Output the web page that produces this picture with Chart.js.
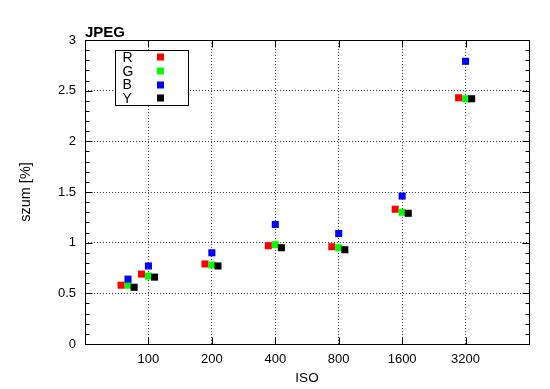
<!DOCTYPE html>
<html>
<head>
<meta charset="utf-8">
<script src="https://cdn.jsdelivr.net/npm/chart.js@4.4.0/dist/chart.umd.min.js"></script>
<style>
    html, body { margin: 0; padding: 0; background: #fff; }
    #wrap { width: 550px; height: 389px; position: relative; }
</style>
</head>
<body>
<div id="wrap"><canvas id="chartSzum"></canvas></div>
<script>
// dane
var isoValues = [80, 100, 200, 400, 800, 1600, 3200];
var isoTicks = [100, 200, 400, 800, 1600, 3200];
var szumR = [0.58, 0.69, 0.79, 0.97, 0.96, 1.33, 2.43];
var szumG = [0.58, 0.67, 0.78, 0.98, 0.95, 1.30, 2.42];
var szumB = [0.64, 0.77, 0.90, 1.18, 1.09, 1.46, 2.79];
var szumY = [0.56, 0.66, 0.77, 0.95, 0.93, 1.29, 2.42];
var seriesNames = ['R', 'G', 'B', 'Y'];

(function() {
    'use strict';

    var FONT = '"Liberation Sans", Arial, Helvetica, sans-serif';
    var FONT_NARROW = '"Liberation Sans Narrow", "Arial Narrow", "Liberation Sans", sans-serif';

    function punkty(vals, shift) {
        return isoValues.map(function(iso, i) {
            return { x: iso * shift, y: vals[i] };
        });
    }

    function seria(name, vals, color, shift, order) {
        return {
            label: name,
            data: punkty(vals, shift),
            backgroundColor: color,
            borderColor: color,
            pointStyle: 'rect',
            pointRadius: 5,
            pointHoverRadius: 5,
            pointBorderWidth: 0,
            showLine: false,
            order: order
        };
    }

    // ramka, ticki do wewnatrz, legenda i tytul
    var gnuplotStyle = {
        id: 'gnuplotStyle',
        afterDraw: function(chart) {
            var c = chart.ctx;
            var a = chart.chartArea;
            var xs = chart.scales.x;
            var ys = chart.scales.y;
            var L = Math.round(a.left) + 0.5, R = Math.round(a.right) + 0.5;
            var T = Math.round(a.top) + 0.5, B = Math.round(a.bottom) + 0.5;

            c.save();
            c.strokeStyle = '#000';
            c.lineWidth = 1;
            c.beginPath();
            // y: ticki co 0.1, wieksze co 0.5
            for (var k = 0; k <= 30; k++) {
                var v = k / 10;
                var py = Math.round(ys.getPixelForValue(v)) + 0.5;
                var len = (k % 5 === 0) ? 7 : 4;
                c.moveTo(L, py); c.lineTo(L + len, py);
                c.moveTo(R, py); c.lineTo(R - len, py);
            }
            isoTicks.forEach(function(t) {
                var px = Math.round(xs.getPixelForValue(t)) + 0.5;
                c.moveTo(px, B); c.lineTo(px, B - 7);
                c.moveTo(px, T); c.lineTo(px, T + 7);
            });
            c.stroke();
            c.strokeRect(L, T, R - L, B - T);

            // tytul
            c.fillStyle = '#000';
            c.font = 'bold 15px ' + FONT;
            c.textAlign = 'left';
            c.textBaseline = 'alphabetic';
            c.fillText('JPEG', 85, 37);

            // legenda
            c.fillStyle = '#fff';
            c.fillRect(115.5, 50.5, 73, 55);
            c.strokeRect(115.5, 50.5, 73, 55);
            c.font = '14px ' + FONT_NARROW;
            c.textBaseline = 'alphabetic';
            chart.data.datasets.forEach(function(ds, i) {
                var y = 57 + i * 13.8;
                c.fillStyle = '#000';
                c.fillText(ds.label, 122.5, y + 4.8);
                c.fillStyle = ds.backgroundColor;
                c.fillRect(157, Math.round(y) - 3.5, 7, 7);
            });
            c.restore();
        }
    };

    var ctx = document.getElementById('chartSzum');
    new Chart(ctx, {
        type: 'scatter',
        data: {
            datasets: [
                seria(seriesNames[0], szumR, '#ff0000', 0.927, 3),
                seria(seriesNames[1], szumG, '#00ff00', 1.0, 2),
                seria(seriesNames[2], szumB, '#0000ff', 1.0, 1),
                seria(seriesNames[3], szumY, '#000000', 1.069, 0)
            ]
        },
        options: {
            responsive: true,
            maintainAspectRatio: false,
            animation: false,
            layout: { padding: { top: 40, right: 21, bottom: 0, left: 0 } },
            plugins: {
                legend: { display: false },
                tooltip: { enabled: false }
            },
            scales: {
                x: {
                    type: 'logarithmic',
                    min: 50,
                    max: 6400,
                    afterBuildTicks: function(scale) {
                        scale.ticks = isoTicks.map(function(v) { return { value: v }; });
                    },
                    afterFit: function(scale) { scale.height = 45; },
                    ticks: {
                        autoSkip: false,
                        maxRotation: 0,
                        padding: 8,
                        color: '#000',
                        font: { family: FONT, size: 13 },
                        callback: function(v) { return String(v); }
                    },
                    grid: { color: 'rgba(0,0,0,0.75)', drawTicks: false, lineWidth: 1 },
                    border: { display: false, dash: [1, 2] },
                    title: {
                        display: true,
                        text: 'ISO',
                        color: '#000',
                        font: { family: FONT, size: 13.5 },
                        padding: { top: 0, bottom: 3 }
                    }
                },
                y: {
                    min: 0,
                    max: 3,
                    afterFit: function(scale) { scale.width = 85; },
                    ticks: {
                        stepSize: 0.5,
                        padding: 9,
                        color: '#000',
                        font: { family: FONT, size: 13 },
                        callback: function(v) { return String(v); }
                    },
                    grid: { color: 'rgba(0,0,0,0.75)', drawTicks: false, lineWidth: 1 },
                    border: { display: false, dash: [1, 2] },
                    title: {
                        display: true,
                        text: 'szum [%]',
                        color: '#000',
                        font: { family: FONT, size: 14.5 },
                        padding: { top: 17, bottom: 0 }
                    }
                }
            }
        },
        plugins: [gnuplotStyle]
    });
})();
</script>
</body>
</html>
